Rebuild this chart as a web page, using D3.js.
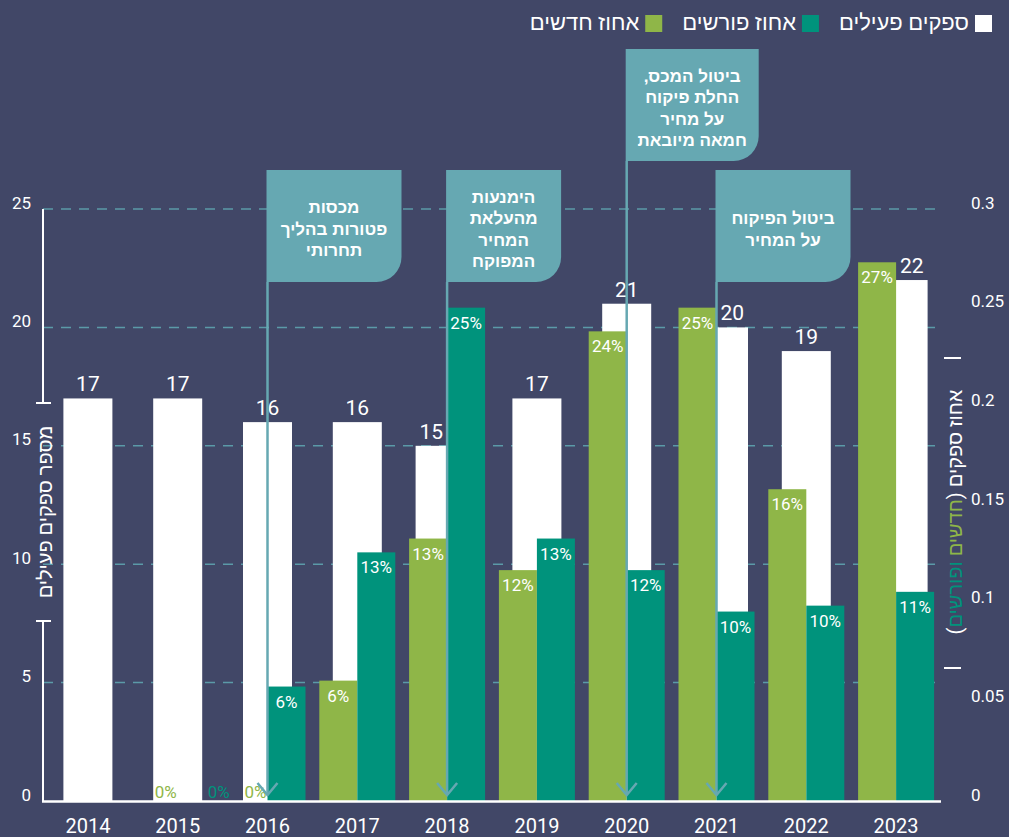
<!DOCTYPE html>
<html>
<head>
<meta charset="utf-8">
<script src="https://cdn.jsdelivr.net/npm/d3@7"></script>
<style>
  html, body { margin: 0; padding: 0; background: #414767; }
  svg { display: block; font-family: Roboto, "Liberation Sans", sans-serif; }
</style>
</head>
<body>
<div id="chart"></div>
<script>
// data
var years = [2014, 2015, 2016, 2017, 2018, 2019, 2020, 2021, 2022, 2023];
var activeSuppliers = [17, 17, 16, 16, 15, 17, 21, 20, 19, 22];
var newShare = [null, 0, 0, 0.061, 0.133, 0.117, 0.238, 0.25, 0.158, 0.273];
var retiredShare = [null, 0, 0.058, 0.126, 0.25, 0.133, 0.117, 0.096, 0.099, 0.106];
var leftTicks = [0, 5, 10, 15, 20, 25];
var rightTicks = [0, 0.05, 0.1, 0.15, 0.2, 0.25, 0.3];

var legendLabels = ['ספקים פעילים', 'אחוז פורשים', 'אחוז חדשים'];
var leftTitle = 'מספר ספקים פעילים';

var annotationYears = [2016, 2018, 2020, 2021];
var annotationLines = [
  ['מכסות', 'פטורות בהליך', 'תחרותי'],
  ['הימנעות', 'מהעלאת', 'המחיר', 'המפוקח'],
  ['ביטול המכס,', 'החלת פיקוח', 'על מחיר', 'חמאה מיובאת'],
  ['ביטול הפיקוח', 'על המחיר']
];

// colours and layout
var bg = '#414767',
  white = '#ffffff',
  green = '#8fb648',
  teal = '#00937c',
  flagColor = '#66a8b2',
  gridColor = '#5b9aa8';

var width = 1009,
  height = 837,
  baseY = 801,
  topY = 209,
  plotLeft = 43,
  plotRight = 941,
  whiteWidth = 49,
  subWidth = 38,
  coverShift = 7;

// flag boxes: top and width per annotation
var flagTops = [170, 170, 49, 170],
  flagWidths = [135, 115, 133, 135],
  flagHeight = 112;

var svg = d3
  .select('#chart')
  .append('svg')
  .attr('width', width)
  .attr('height', height);

svg.append('rect').attr('width', width).attr('height', height).attr('fill', bg);

var x = d3.scaleBand().domain(years).range([plotLeft, plotRight]);
var yLeft = d3.scaleLinear().domain([0, 25]).range([baseY, topY]);
var yRight = d3.scaleLinear().domain([0, 0.3]).range([baseY, topY]);
var sub = d3.scaleBand().domain(['new', 'retired']).range([-subWidth, subWidth]);

function center(year) {
  return x(year) + x.bandwidth() / 2;
}

// dashed grid
svg
  .append('g')
  .selectAll('line')
  .data(leftTicks.filter(function (d) { return d > 0; }))
  .enter()
  .append('line')
  .attr('x1', plotLeft)
  .attr('x2', plotRight - 1)
  .attr('y1', function (d) { return yLeft(d); })
  .attr('y2', function (d) { return yLeft(d); })
  .attr('stroke', gridColor)
  .attr('stroke-width', 1.5)
  .attr('stroke-dasharray', '10,8');

// rows for bars
var rows = years.map(function (year, i) {
  var w = activeSuppliers[i],
    n = newShare[i],
    r = retiredShare[i];
  var shift = 0;
  if (n != null && yRight(n) < yLeft(w)) shift = coverShift;
  if (r != null && yRight(r) < yLeft(w)) shift = -coverShift;
  return { year: year, active: w, newS: n, retS: r, shift: shift };
});

// active suppliers (white, behind)
svg
  .append('g')
  .selectAll('rect')
  .data(rows)
  .enter()
  .append('rect')
  .attr('x', function (d) { return center(d.year) - whiteWidth / 2 + d.shift; })
  .attr('y', function (d) { return yLeft(d.active); })
  .attr('width', whiteWidth)
  .attr('height', function (d) { return baseY - yLeft(d.active); })
  .attr('fill', white);

// new and retired shares
var shareBars = [];
rows.forEach(function (d) {
  if (d.newS != null) shareBars.push({ year: d.year, key: 'new', v: d.newS });
  if (d.retS != null) shareBars.push({ year: d.year, key: 'retired', v: d.retS });
});

svg
  .append('g')
  .selectAll('rect')
  .data(shareBars.filter(function (d) { return d.v > 0; }))
  .enter()
  .append('rect')
  .attr('x', function (d) { return center(d.year) + sub(d.key); })
  .attr('y', function (d) { return yRight(d.v); })
  .attr('width', sub.bandwidth())
  .attr('height', function (d) { return baseY - yRight(d.v); })
  .attr('fill', function (d) { return d.key === 'new' ? green : teal; });

// percent labels
svg
  .append('g')
  .selectAll('text')
  .data(shareBars)
  .enter()
  .append('text')
  .attr('x', function (d) {
    if (d.v === 0) return center(d.year) + (d.key === 'new' ? -12 : 41);
    return center(d.year) + sub(d.key) + sub.bandwidth() / 2;
  })
  .attr('y', function (d) { return d.v === 0 ? baseY - 3 : yRight(d.v) + 21; })
  .attr('text-anchor', 'middle')
  .attr('font-size', 17)
  .attr('fill', function (d) {
    if (d.v > 0) return white;
    return d.key === 'new' ? green : teal;
  })
  .text(function (d) { return Math.round(d.v * 100) + '%'; });

// active supplier count labels
svg
  .append('g')
  .selectAll('text')
  .data(rows)
  .enter()
  .append('text')
  .attr('x', function (d) {
    var c = center(d.year);
    if (d.shift === 0) return c;
    return c + (d.shift > 0 ? 1 : -1) * (whiteWidth / 2 + coverShift) / 2;
  })
  .attr('y', function (d) { return yLeft(d.active) - 7; })
  .attr('text-anchor', 'middle')
  .attr('font-size', 21)
  .attr('fill', white)
  .text(function (d) { return d.active; });

// baseline
svg
  .append('line')
  .attr('x1', plotLeft - 1)
  .attr('x2', plotRight)
  .attr('y1', baseY + 0.5)
  .attr('y2', baseY + 0.5)
  .attr('stroke', white)
  .attr('stroke-width', 2.5);

// left axis line with a gap for the title
var gapTop = 403,
  gapBottom = 621;
var leftLine = svg.append('g').attr('stroke', white).attr('stroke-width', 2);
leftLine.append('line').attr('x1', plotLeft).attr('x2', plotLeft).attr('y1', topY).attr('y2', gapTop);
leftLine.append('line').attr('x1', plotLeft).attr('x2', plotLeft).attr('y1', gapBottom).attr('y2', baseY);
leftLine.append('line').attr('x1', 36).attr('x2', 51).attr('y1', gapTop).attr('y2', gapTop);
leftLine.append('line').attr('x1', 36).attr('x2', 51).attr('y1', gapBottom).attr('y2', gapBottom);

// right title caps
var rightCaps = svg.append('g').attr('stroke', white).attr('stroke-width', 2);
rightCaps.append('line').attr('x1', 944).attr('x2', 961).attr('y1', 358).attr('y2', 358);
rightCaps.append('line').attr('x1', 944).attr('x2', 961).attr('y1', 668).attr('y2', 668);

// left tick labels
var leftAxis = svg
  .append('g')
  .attr('transform', 'translate(31,0)')
  .call(d3.axisLeft(yLeft).tickValues(leftTicks).tickSize(0).tickPadding(0));
leftAxis.select('.domain').remove();
leftAxis
  .selectAll('text')
  .attr('dy', '-0.05em')
  .attr('font-size', 17)
  .attr('font-family', 'Roboto')
  .attr('fill', white);

// right tick labels
var rightAxis = svg
  .append('g')
  .attr('transform', 'translate(971,0)')
  .call(
    d3
      .axisRight(yRight)
      .tickValues(rightTicks)
      .tickSize(0)
      .tickPadding(0)
      .tickFormat(function (d) { return String(+d.toFixed(2)); })
  );
rightAxis.select('.domain').remove();
rightAxis
  .selectAll('text')
  .attr('dy', '-0.05em')
  .attr('font-size', 17)
  .attr('font-family', 'Roboto')
  .attr('fill', white);

// year labels
var xAxis = svg
  .append('g')
  .attr('transform', 'translate(0,' + baseY + ')')
  .call(d3.axisBottom(x).tickSize(0).tickPadding(18));
xAxis.select('.domain').remove();
xAxis
  .selectAll('text')
  .attr('font-size', 20)
  .attr('font-family', 'Roboto')
  .attr('fill', white);

// axis titles
svg
  .append('text')
  .attr('transform', 'translate(45,512) rotate(-90)')
  .attr('direction', 'rtl')
  .attr('text-anchor', 'middle')
  .attr('dy', '0.35em')
  .attr('font-size', 20)
  .attr('fill', white)
  .text(leftTitle);

var rightTitle = svg
  .append('text')
  .attr('transform', 'translate(955,512) rotate(-90)')
  .attr('direction', 'rtl')
  .attr('text-anchor', 'middle')
  .attr('dy', '0.35em')
  .attr('font-size', 20)
  .attr('fill', white);
rightTitle.append('tspan').text('אחוז ספקים (');
rightTitle.append('tspan').attr('fill', green).text('חדשים');
rightTitle.append('tspan').attr('fill', teal).text(' ופורשים');
rightTitle.append('tspan').text(')');

// annotation flags
annotationYears.forEach(function (year, i) {
  var cx = center(year),
    left = cx - 1,
    top = flagTops[i],
    right = left + flagWidths[i],
    bottom = top + flagHeight,
    rad = 25;
  var g = svg.append('g');

  g.append('line')
    .attr('x1', cx)
    .attr('x2', cx)
    .attr('y1', bottom)
    .attr('y2', baseY - 6)
    .attr('stroke', flagColor)
    .attr('stroke-width', 2.5);

  g.append('path')
    .attr('d', 'M' + (cx - 10) + ',' + (baseY - 18) + 'L' + cx + ',' + (baseY - 6) + 'L' + (cx + 10) + ',' + (baseY - 18))
    .attr('fill', 'none')
    .attr('stroke', flagColor)
    .attr('stroke-width', 2.5);

  g.append('path')
    .attr(
      'd',
      'M' + left + ',' + top +
        'H' + right +
        'V' + (bottom - rad) +
        'A' + rad + ',' + rad + ' 0 0 1 ' + (right - rad) + ',' + bottom +
        'H' + left + 'Z'
    )
    .attr('fill', flagColor);

  var lines = annotationLines[i];
  var lineH = 21.5;
  var firstY = (top + bottom) / 2 - ((lines.length - 1) * lineH) / 2 + 3;
  g.selectAll('text')
    .data(lines)
    .enter()
    .append('text')
    .attr('x', (left + right) / 2)
    .attr('y', function (d, j) { return firstY + j * lineH; })
    .attr('dy', '0.35em')
    .attr('direction', 'rtl')
    .attr('text-anchor', 'middle')
    .attr('font-family', '"Liberation Sans", sans-serif')
    .attr('font-weight', 'bold')
    .attr('font-size', 17)
    .attr('fill', white)
    .text(function (d) { return d; });
});

// legend, laid out from the right
var legendColors = [white, teal, green];
var legendRight = 992;
legendLabels.forEach(function (label, i) {
  var g = svg.append('g');
  g.append('rect')
    .attr('x', legendRight - 17)
    .attr('y', 15)
    .attr('width', 17)
    .attr('height', 17)
    .attr('fill', legendColors[i]);
  var t = g
    .append('text')
    .attr('x', legendRight - 23)
    .attr('y', 30)
    .attr('direction', 'rtl')
    .attr('text-anchor', 'start')
    .attr('font-size', 22)
    .attr('fill', white)
    .text(label);
  legendRight = legendRight - 23 - t.node().getComputedTextLength() - 20;
});
</script>
</body>
</html>
